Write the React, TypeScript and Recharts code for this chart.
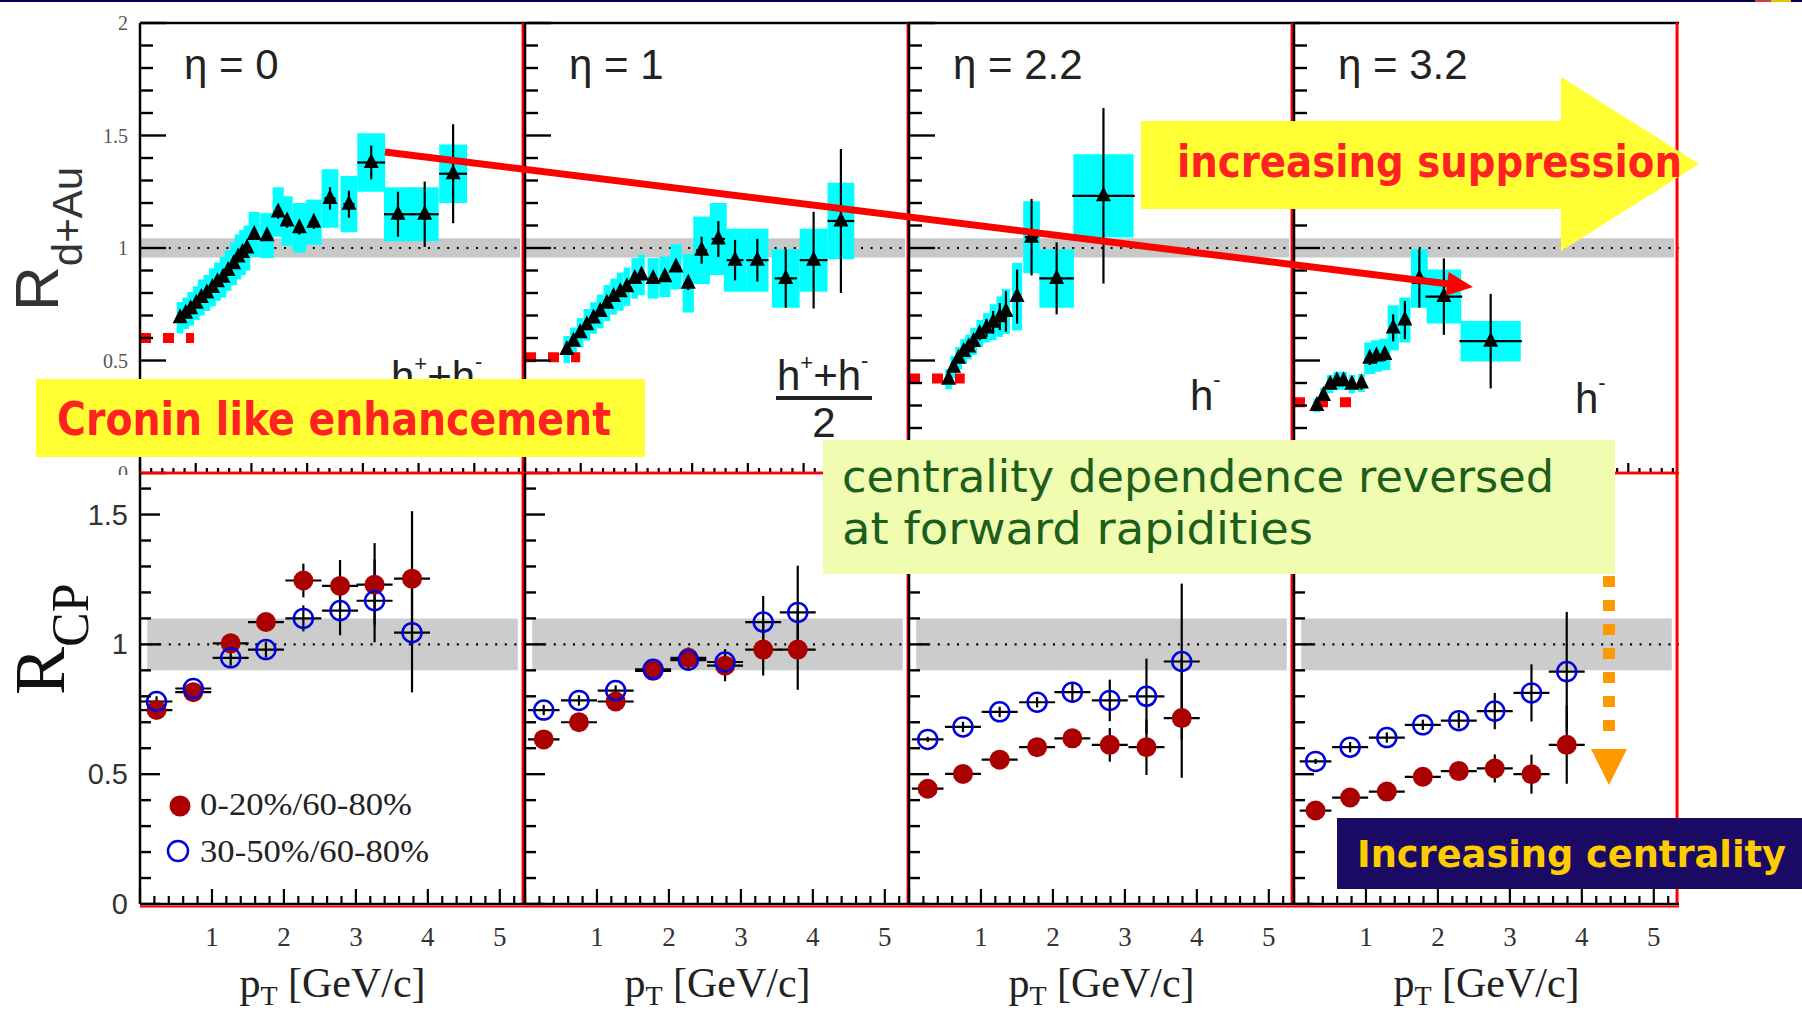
import {
  ComposedChart,
  ErrorBar,
  ReferenceArea,
  ReferenceLine,
  Scatter,
  XAxis,
  YAxis,
} from 'recharts';

const W = 1802;
const H = 1012;

// pad layout: four columns, R_dAu row on top, R_CP row below
const PAD_LEFT = [140, 525, 909, 1294];
const PAD_W = 385;
const TOP = { top: 23, bottom: 473, xMax: 6.91, yMax: 2 };
const BOT = { top: 473, bottom: 904, xMax: 5.35, yMax: 1.66 };

const serif = 'Liberation Serif, serif';
const sans = 'Liberation Sans, sans-serif';
const round = 'DejaVu Sans, sans-serif';

const etaLabels = ['η = 0', 'η = 1', 'η = 2.2', 'η = 3.2'];

// ---- R_dAu, eta = 0 (h+ + h-)
const eta0Pt = [0.72, 0.82, 0.91, 1.01, 1.1, 1.2, 1.3, 1.39, 1.49, 1.58, 1.68, 1.76, 1.84, 1.92, 2.05, 2.28, 2.48, 2.64, 2.86, 3.12, 3.41, 3.75, 4.15, 4.63, 5.11, 5.62];
const eta0R = [0.69, 0.71, 0.73, 0.755, 0.78, 0.8, 0.825, 0.85, 0.87, 0.9, 0.93, 0.96, 0.98, 1.0, 1.06, 1.055, 1.16, 1.12, 1.09, 1.115, 1.22, 1.195, 1.38, 1.15, 1.15, 1.33];
const eta0Stat = [0.01, 0.01, 0.01, 0.01, 0.01, 0.01, 0.01, 0.01, 0.01, 0.01, 0.01, 0.01, 0.01, 0.01, 0.015, 0.015, 0.03, 0.03, 0.03, 0.03, 0.05, 0.06, 0.075, 0.1, 0.145, 0.22];
const eta0Sys = [0.07, 0.07, 0.075, 0.075, 0.08, 0.08, 0.085, 0.085, 0.09, 0.09, 0.095, 0.1, 0.1, 0.1, 0.1, 0.1, 0.11, 0.11, 0.11, 0.1, 0.13, 0.125, 0.13, 0.12, 0.12, 0.13];
const eta0Bin = [0.06, 0.06, 0.06, 0.06, 0.06, 0.06, 0.06, 0.06, 0.06, 0.06, 0.06, 0.06, 0.06, 0.06, 0.1, 0.12, 0.1, 0.1, 0.12, 0.14, 0.15, 0.15, 0.25, 0.25, 0.25, 0.25];
const eta0XErr = [0, 0, 0, 0, 0, 0, 0, 0, 0, 0, 0, 0, 0, 0, 0.06, 0.06, 0.08, 0.08, 0.08, 0.08, 0.1, 0.1, 0.25, 0.25, 0.25, 0.25];

// ---- R_dAu, eta = 1 ((h+ + h-)/2)
const eta1Pt = [0.75, 0.87, 0.99, 1.11, 1.23, 1.35, 1.47, 1.59, 1.71, 1.83, 1.97, 2.09, 2.3, 2.51, 2.71, 2.93, 3.17, 3.47, 3.77, 4.17, 4.68, 5.18, 5.67];
const eta1R = [0.549, 0.586, 0.623, 0.659, 0.689, 0.718, 0.755, 0.784, 0.806, 0.828, 0.865, 0.88, 0.865, 0.872, 0.916, 0.843, 0.99, 1.04, 0.946, 0.946, 0.865, 0.946, 1.12];
const eta1Stat = [0.01, 0.01, 0.01, 0.01, 0.01, 0.01, 0.01, 0.01, 0.01, 0.01, 0.01, 0.01, 0.015, 0.015, 0.02, 0.03, 0.06, 0.08, 0.09, 0.095, 0.13, 0.215, 0.32];
const eta1Sys = [0.06, 0.06, 0.065, 0.07, 0.07, 0.075, 0.08, 0.08, 0.085, 0.085, 0.09, 0.09, 0.09, 0.09, 0.1, 0.13, 0.15, 0.16, 0.14, 0.14, 0.13, 0.14, 0.17];
const eta1Bin = [0.06, 0.06, 0.06, 0.06, 0.06, 0.06, 0.06, 0.06, 0.06, 0.06, 0.06, 0.06, 0.1, 0.1, 0.1, 0.1, 0.15, 0.15, 0.2, 0.2, 0.25, 0.25, 0.24];
const eta1XErr = [0, 0, 0, 0, 0, 0, 0, 0, 0, 0, 0, 0, 0.08, 0.08, 0.08, 0.08, 0.1, 0.12, 0.15, 0.2, 0.2, 0.25, 0.24];

// ---- R_dAu, eta = 2.2 (h-)
const eta22Pt = [0.71, 0.8, 0.89, 0.98, 1.07, 1.16, 1.27, 1.39, 1.51, 1.63, 1.74, 1.94, 2.2, 2.65, 3.49];
const eta22R = [0.417, 0.47, 0.51, 0.54, 0.56, 0.585, 0.62, 0.645, 0.67, 0.695, 0.718, 0.784, 1.048, 0.865, 1.232];
const eta22Stat = [0.01, 0.015, 0.015, 0.02, 0.02, 0.03, 0.03, 0.04, 0.05, 0.06, 0.09, 0.12, 0.17, 0.16, 0.39];
const eta22Sys = [0.045, 0.05, 0.05, 0.055, 0.055, 0.06, 0.06, 0.065, 0.08, 0.09, 0.1, 0.15, 0.16, 0.13, 0.185];
const eta22Bin = [0.06, 0.06, 0.06, 0.06, 0.06, 0.06, 0.06, 0.06, 0.06, 0.06, 0.07, 0.09, 0.15, 0.31, 0.54];
const eta22XErr = [0, 0, 0, 0, 0, 0, 0, 0, 0, 0, 0.05, 0.06, 0.12, 0.31, 0.56];

// ---- R_dAu, eta = 3.2 (h-)
const eta32Pt = [0.41, 0.53, 0.65, 0.77, 0.89, 1.04, 1.21, 1.36, 1.48, 1.63, 1.78, 1.99, 2.25, 2.69, 3.53];
const eta32R = [0.3, 0.344, 0.395, 0.41, 0.41, 0.395, 0.4, 0.51, 0.52, 0.527, 0.645, 0.68, 0.865, 0.784, 0.586];
const eta32Stat = [0.01, 0.01, 0.02, 0.02, 0.02, 0.02, 0.03, 0.03, 0.03, 0.03, 0.06, 0.085, 0.13, 0.17, 0.21];
const eta32Sys = [0.03, 0.035, 0.04, 0.04, 0.04, 0.04, 0.04, 0.07, 0.07, 0.07, 0.1, 0.1, 0.13, 0.12, 0.09];
const eta32Bin = [0.06, 0.06, 0.06, 0.06, 0.06, 0.06, 0.06, 0.1, 0.1, 0.1, 0.1, 0.1, 0.15, 0.31, 0.54];
const eta32XErr = [0, 0, 0, 0, 0, 0, 0, 0, 0, 0, 0.05, 0.05, 0.1, 0.33, 0.56];

// N_part scaling level drawn at low pT in each R_dAu pad
const npartLevel = [0.6, 0.515, 0.42, 0.314];
const npartEnd = [0.97, 0.99, 1.0, 1.1];

// ---- R_CP: 0-20%/60-80% (central) and 30-50%/60-80% (mid)
const rcpPtEta0 = [0.23, 0.74, 1.26, 1.75, 2.27, 2.78, 3.26, 3.78];
const rcpCentEta0 = [0.747, 0.816, 1.004, 1.086, 1.246, 1.225, 1.23, 1.253];
const rcpCentErrEta0 = [0.02, 0.02, 0.03, 0.03, 0.065, 0.1, 0.16, 0.26];
const rcpMidEta0 = [0.78, 0.83, 0.948, 0.98, 1.1, 1.13, 1.168, 1.045];
const rcpMidErrEta0 = [0.02, 0.02, 0.03, 0.03, 0.05, 0.095, 0.16, 0.23];

const rcpPtEta1 = [0.26, 0.75, 1.26, 1.78, 2.27, 2.78, 3.31, 3.79];
const rcpCentEta1 = [0.634, 0.7, 0.78, 0.898, 0.948, 0.918, 0.98, 0.98];
const rcpCentErrEta1 = [0.02, 0.02, 0.02, 0.03, 0.04, 0.06, 0.1, 0.155];
const rcpMidEta1 = [0.747, 0.784, 0.822, 0.904, 0.939, 0.932, 1.086, 1.123];
const rcpMidErrEta1 = [0.02, 0.02, 0.02, 0.03, 0.04, 0.05, 0.1, 0.18];

const rcpPtEta22 = [0.26, 0.75, 1.26, 1.78, 2.27, 2.79, 3.3, 3.79];
const rcpCentEta22 = [0.444, 0.501, 0.556, 0.604, 0.638, 0.613, 0.604, 0.716];
const rcpCentErrEta22 = [0.01, 0.01, 0.02, 0.02, 0.03, 0.065, 0.107, 0.23];
const rcpMidEta22 = [0.634, 0.682, 0.74, 0.777, 0.816, 0.784, 0.8, 0.934];
const rcpMidErrEta22 = [0.01, 0.02, 0.02, 0.02, 0.035, 0.08, 0.145, 0.3];

const rcpPtEta32 = [0.3, 0.78, 1.29, 1.79, 2.29, 2.79, 3.3, 3.79];
const rcpCentEta32 = [0.36, 0.41, 0.433, 0.49, 0.512, 0.522, 0.5, 0.613];
const rcpCentErrEta32 = [0.01, 0.02, 0.02, 0.02, 0.03, 0.054, 0.075, 0.15];
const rcpMidEta32 = [0.549, 0.604, 0.641, 0.69, 0.706, 0.743, 0.813, 0.895];
const rcpMidErrEta32 = [0.01, 0.02, 0.02, 0.02, 0.03, 0.07, 0.11, 0.23];

const rcpBinHalf = [0.22, 0.25, 0.25, 0.25, 0.25, 0.25, 0.25, 0.25];

const legendLabels = ['0-20%/60-80%', '30-50%/60-80%'];

type RdAuSet = { pt: number[]; r: number[]; stat: number[]; sys: number[]; bin: number[]; xerr: number[] };
const rdauSets: RdAuSet[] = [
  { pt: eta0Pt, r: eta0R, stat: eta0Stat, sys: eta0Sys, bin: eta0Bin, xerr: eta0XErr },
  { pt: eta1Pt, r: eta1R, stat: eta1Stat, sys: eta1Sys, bin: eta1Bin, xerr: eta1XErr },
  { pt: eta22Pt, r: eta22R, stat: eta22Stat, sys: eta22Sys, bin: eta22Bin, xerr: eta22XErr },
  { pt: eta32Pt, r: eta32R, stat: eta32Stat, sys: eta32Sys, bin: eta32Bin, xerr: eta32XErr },
];

type RcpSet = { pt: number[]; cent: number[]; centErr: number[]; mid: number[]; midErr: number[] };
const rcpSets: RcpSet[] = [
  { pt: rcpPtEta0, cent: rcpCentEta0, centErr: rcpCentErrEta0, mid: rcpMidEta0, midErr: rcpMidErrEta0 },
  { pt: rcpPtEta1, cent: rcpCentEta1, centErr: rcpCentErrEta1, mid: rcpMidEta1, midErr: rcpMidErrEta1 },
  { pt: rcpPtEta22, cent: rcpCentEta22, centErr: rcpCentErrEta22, mid: rcpMidEta22, midErr: rcpMidErrEta22 },
  { pt: rcpPtEta32, cent: rcpCentEta32, centErr: rcpCentErrEta32, mid: rcpMidEta32, midErr: rcpMidErrEta32 },
];

const steps = (to: number, step: number) =>
  Array.from({ length: Math.round(to / step) + 1 }, (_, i) => +(i * step).toFixed(2));
const topYTicks = steps(2, 0.1);
const topXTicks = steps(6.8, 0.2);
const botYTicks = steps(1.6, 0.1);
const botXTicks = steps(5.2, 0.2);
const onStep = (v: number, s: number) => Math.abs(v / s - Math.round(v / s)) < 1e-6;

type LabelStyle = { family: string; size: number; fill: string };

// inward ticks on the left axis, long every 0.5
const yTick = (left: number, major: number, minor: number, label?: LabelStyle) => (p: any) => {
  const v = p.payload.value as number;
  const isMajor = onStep(v, 0.5);
  return (
    <g>
      <line x1={left} x2={left + (isMajor ? major : minor)} y1={p.y} y2={p.y} stroke="#000" strokeWidth={2.4} />
      {label && isMajor ? (
        <text x={left - 12} y={p.y} textAnchor="end" dominantBaseline="central" fontFamily={label.family} fontSize={label.size} fill={label.fill}>
          {v}
        </text>
      ) : null}
    </g>
  );
};

// upward ticks on the bottom axis, long every 1 GeV/c
const xTick = (bottom: number, major: number, minor: number, withLabels: boolean) => (p: any) => {
  const v = p.payload.value as number;
  const isMajor = onStep(v, 1);
  return (
    <g>
      <line x1={p.x} x2={p.x} y1={bottom} y2={bottom - (isMajor ? major : minor)} stroke="#000" strokeWidth={2.2} />
      {withLabels && isMajor && v > 0 ? (
        <text x={p.x} y={bottom + 33} textAnchor="middle" dominantBaseline="central" fontFamily={serif} fontSize={27} fill="#333">
          {v}
        </text>
      ) : null}
    </g>
  );
};

const Triangle = (p: any) => (
  <polygon points={`${p.cx},${p.cy - 9.5} ${p.cx - 7.5},${p.cy + 5.5} ${p.cx + 7.5},${p.cy + 5.5}`} fill="#000" />
);
const FullCircle = (p: any) => <circle cx={p.cx} cy={p.cy} r={10} fill="#aa0000" />;
const OpenCircle = (p: any) => <circle cx={p.cx} cy={p.cy} r={9.5} fill="none" stroke="#0000dd" strokeWidth={2.5} />;

function RdAuPad({ col }: { col: number }) {
  const s = rdauSets[col];
  const left = PAD_LEFT[col];
  const right = left + PAD_W;
  const pts = s.pt.map((x, i) => ({ x, y: s.r[i], ey: s.stat[i], ex: s.xerr[i] }));
  return (
    <div style={{ position: 'absolute', left: 0, top: 0 }}>
      <ComposedChart
        width={W}
        height={H}
        margin={{ top: TOP.top, bottom: H - TOP.bottom - 1, left: left - 1, right: W - right }}
      >
        <XAxis
          type="number"
          dataKey="x"
          domain={[0, TOP.xMax]}
          allowDataOverflow
          ticks={topXTicks}
          interval={0}
          height={1}
          tickSize={0}
          tickMargin={0}
          tickLine={false}
          axisLine={{ stroke: '#ff0000', strokeWidth: 2.5 }}
          tick={xTick(TOP.bottom, 10, 5, false)}
        />
        <YAxis
          type="number"
          dataKey="y"
          domain={[0, TOP.yMax]}
          allowDataOverflow
          ticks={topYTicks}
          interval={0}
          width={1}
          tickSize={0}
          tickMargin={0}
          tickLine={false}
          axisLine={{ stroke: '#000', strokeWidth: 2.5 }}
          tick={yTick(left, 26, 13, col === 0 ? { family: serif, size: 20, fill: '#555' } : undefined)}
        />
        <ReferenceArea x1={0} x2={6.82} y1={0.958} y2={1.043} fill="#c8c8c8" fillOpacity={1} stroke="none" zIndex={100} />
        <ReferenceLine y={1} stroke="#000" strokeWidth={2.2} strokeDasharray="2 7.6" zIndex={110} />
        {pts.map((d, i) => (
          <ReferenceArea
            key={i}
            x1={d.x - s.bin[i]}
            x2={d.x + s.bin[i]}
            y1={d.y - s.sys[i]}
            y2={d.y + s.sys[i]}
            fill="#00ffff"
            fillOpacity={1}
            stroke="none"
            zIndex={120}
          />
        ))}
        <ReferenceLine
          segment={[
            { x: 0, y: npartLevel[col] },
            { x: npartEnd[col], y: npartLevel[col] },
          ]}
          stroke="#ff0000"
          strokeWidth={10}
          strokeDasharray="11 12"
          zIndex={130}
        />
        <ReferenceLine y={TOP.yMax} stroke="#000" strokeWidth={2.5} zIndex={450} />
        <ReferenceLine x={TOP.xMax - 0.035} stroke="#ff0000" strokeWidth={3} zIndex={450} />
        <Scatter data={pts} dataKey="y" shape={Triangle} isAnimationActive={false}>
          <ErrorBar dataKey="ey" direction="y" width={0} stroke="#000" strokeWidth={2.2} isAnimationActive={false} />
          <ErrorBar dataKey="ex" direction="x" width={0} stroke="#000" strokeWidth={2.2} isAnimationActive={false} />
        </Scatter>
      </ComposedChart>
    </div>
  );
}

function RcpPad({ col }: { col: number }) {
  const s = rcpSets[col];
  const left = PAD_LEFT[col];
  const right = left + PAD_W;
  const cent = s.pt.map((x, i) => ({ x, y: s.cent[i], ey: s.centErr[i], ex: rcpBinHalf[i] }));
  const mid = s.pt.map((x, i) => ({ x, y: s.mid[i], ey: s.midErr[i], ex: rcpBinHalf[i] }));
  return (
    <div style={{ position: 'absolute', left: 0, top: 0 }}>
      <ComposedChart
        width={W}
        height={H}
        margin={{ top: BOT.top, bottom: H - BOT.bottom - 1, left: left - 1, right: W - right }}
      >
        <XAxis
          type="number"
          dataKey="x"
          domain={[0, BOT.xMax]}
          allowDataOverflow
          ticks={botXTicks}
          interval={0}
          height={1}
          tickSize={0}
          tickMargin={0}
          tickLine={false}
          axisLine={{ stroke: '#000', strokeWidth: 2.5 }}
          tick={xTick(BOT.bottom, 15, 8, true)}
        />
        <YAxis
          type="number"
          dataKey="y"
          domain={[0, BOT.yMax]}
          allowDataOverflow
          ticks={botYTicks}
          interval={0}
          width={1}
          tickSize={0}
          tickMargin={0}
          tickLine={false}
          axisLine={{ stroke: '#000', strokeWidth: 2.5 }}
          tick={yTick(left, 20, 11, col === 0 ? { family: sans, size: 29, fill: '#333' } : undefined)}
        />
        <ReferenceArea x1={0.1} x2={5.25} y1={0.9} y2={1.1} fill="#cccccc" fillOpacity={1} stroke="none" zIndex={100} />
        <ReferenceLine y={1} stroke="#000" strokeWidth={2.2} strokeDasharray="2 7.6" zIndex={110} />
        <ReferenceLine y={BOT.yMax} stroke="#ff0000" strokeWidth={2.5} zIndex={450} />
        <ReferenceLine x={BOT.xMax - 0.027} stroke="#ff0000" strokeWidth={3} zIndex={450} />
        <Scatter data={cent} dataKey="y" shape={FullCircle} isAnimationActive={false}>
          <ErrorBar dataKey="ey" direction="y" width={0} stroke="#000" strokeWidth={2.2} isAnimationActive={false} />
          <ErrorBar dataKey="ex" direction="x" width={0} stroke="#000" strokeWidth={2.2} isAnimationActive={false} />
        </Scatter>
        <Scatter data={mid} dataKey="y" shape={OpenCircle} isAnimationActive={false}>
          <ErrorBar dataKey="ey" direction="y" width={0} stroke="#000" strokeWidth={2.2} isAnimationActive={false} />
          <ErrorBar dataKey="ex" direction="x" width={0} stroke="#000" strokeWidth={2.2} isAnimationActive={false} />
        </Scatter>
      </ComposedChart>
    </div>
  );
}

function Overlay() {
  return (
    <svg width={W} height={H} style={{ position: 'absolute', left: 0, top: 0 }}>
      <rect x={0} y={0} width={W} height={2} fill="#000050" />
      <rect x={1755} y={0} width={16} height={2} fill="#c84040" />
      <rect x={1771} y={0} width={20} height={2} fill="#e0c800" />

      {/* lower pad covers the bottom half of the R_dAu "0" label */}
      <rect x={92} y={475} width={46} height={16} fill="#fff" />
      <line x1={140} x2={1679} y1={906.5} y2={906.5} stroke="#ff0000" strokeWidth={2} />

      {/* axis titles */}
      <text transform="translate(58 311) rotate(-90)" fontFamily={sans} fill="#333">
        <tspan fontSize={62}>R</tspan>
        <tspan fontSize={42} dy={24}>d+Au</tspan>
      </text>
      <text transform="translate(64 695) rotate(-90)" fontFamily={serif} fill="#111">
        <tspan fontSize={72}>R</tspan>
        <tspan fontSize={52} dy={24}>CP</tspan>
      </text>
      {PAD_LEFT.map((l) => (
        <text key={`pt${l}`} x={l + PAD_W / 2} y={997} textAnchor="middle" fontFamily={serif} fontSize={42} fill="#222">
          p<tspan fontSize={28} dy={8}>T</tspan>
          <tspan dy={-8}> [GeV/c]</tspan>
        </text>
      ))}

      {/* pseudorapidity labels */}
      {PAD_LEFT.map((l, i) => (
        <text key={`eta${l}`} x={l + 44} y={79} fontFamily={sans} fontSize={42} fill="#222">
          {etaLabels[i]}
        </text>
      ))}

      {/* particle species */}
      <text x={391} y={391} fontFamily={sans} fontSize={42} fill="#222">
        h<tspan fontSize={22} dy={-20}>+</tspan>
        <tspan dy={20}>+h</tspan>
        <tspan fontSize={22} dy={-22}>-</tspan>
      </text>
      <text x={777} y={390} fontFamily={sans} fontSize={42} fill="#222">
        h<tspan fontSize={22} dy={-20}>+</tspan>
        <tspan dy={20}>+h</tspan>
        <tspan fontSize={22} dy={-22}>-</tspan>
      </text>
      <line x1={776} x2={872} y1={398} y2={398} stroke="#222" strokeWidth={4} />
      <text x={824} y={437} textAnchor="middle" fontFamily={sans} fontSize={42} fill="#222">
        2
      </text>
      <text x={1190} y={410} fontFamily={sans} fontSize={42} fill="#222">
        h<tspan fontSize={22} dy={-23}>-</tspan>
      </text>
      <text x={1575} y={413} fontFamily={sans} fontSize={42} fill="#222">
        h<tspan fontSize={22} dy={-23}>-</tspan>
      </text>

      {/* R_CP legend */}
      <circle cx={180} cy={806} r={10.5} fill="#aa0000" />
      <text x={200} y={815} fontFamily={serif} fontSize={32} fill="#222" textLength={212} lengthAdjust="spacingAndGlyphs">
        {legendLabels[0]}
      </text>
      <circle cx={178} cy={851} r={10} fill="none" stroke="#0000dd" strokeWidth={2.5} />
      <text x={200} y={862} fontFamily={serif} fontSize={32} fill="#222" textLength={229} lengthAdjust="spacingAndGlyphs">
        {legendLabels[1]}
      </text>

      {/* Cronin note */}
      <rect x={36} y={379} width={609} height={78} fill="#ffff33" />
      <text x={57} y={435} fontFamily={round} fontWeight="bold" fontSize={47} fill="#ff2222" textLength={554} lengthAdjust="spacingAndGlyphs">
        Cronin like enhancement
      </text>

      {/* trend arrow across the R_dAu pads */}
      <line x1={385} y1={152} x2={1449} y2={284} stroke="#ff0000" strokeWidth={7} />
      <polygon points="1473,287 1445.7,295.7 1448.7,271.9" fill="#ff0000" />

      {/* block arrow */}
      <polygon points="1141,121 1561,121 1561,77 1699,164 1561,251 1561,209 1141,209" fill="#ffff33" />
      <text x={1177} y={177} fontFamily={round} fontWeight="bold" fontSize={44} fill="#ff2222" textLength={505} lengthAdjust="spacingAndGlyphs">
        increasing suppression
      </text>

      {/* centrality note */}
      <rect x={823} y={440} width={792} height={134} fill="#f0fcb0" />
      <text x={842} y={492} fontFamily={round} fontSize={45} fill="#1c5e1c" textLength={712} lengthAdjust="spacingAndGlyphs">
        centrality dependence reversed
      </text>
      <text x={842} y={544} fontFamily={round} fontSize={45} fill="#1c5e1c" textLength={471} lengthAdjust="spacingAndGlyphs">
        at forward rapidities
      </text>

      {/* dashed downward arrow */}
      <line x1={1609} y1={576} x2={1609} y2={731} stroke="#ff9900" strokeWidth={12} strokeDasharray="11 13" />
      <polygon points="1591,749 1627,749 1609,785" fill="#ff9900" />

      <rect x={1337} y={818} width={465} height={71} fill="#1b0a63" />
      <text x={1357} y={867} fontFamily={round} fontWeight="bold" fontSize={38} fill="#ffcc00" textLength={429} lengthAdjust="spacingAndGlyphs">
        Increasing centrality
      </text>
    </svg>
  );
}

export default function App() {
  return (
    <div
      style={{
        position: 'absolute',
        left: 0,
        top: 0,
        width: W,
        height: H,
        background: '#fff',
        overflow: 'hidden',
      }}
    >
      {[0, 1, 2, 3].map((c) => (
        <RdAuPad key={`rdau${c}`} col={c} />
      ))}
      {[0, 1, 2, 3].map((c) => (
        <RcpPad key={`rcp${c}`} col={c} />
      ))}
      <Overlay />
    </div>
  );
}
